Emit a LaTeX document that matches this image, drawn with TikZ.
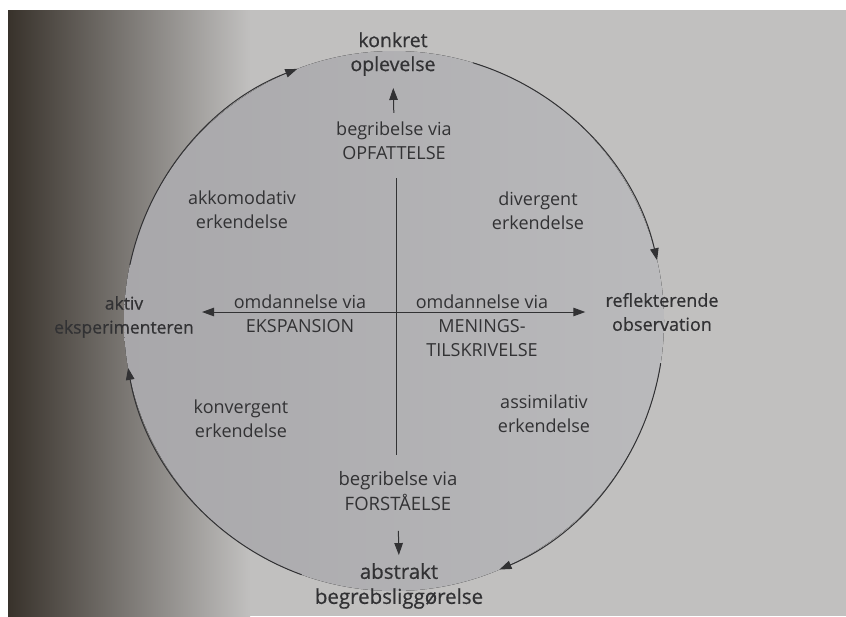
\documentclass[tikz,border=0pt]{standalone}
\usepackage{fontspec}
\setmainfont{Open Sans}
\newfontfamily\semib{Open Sans}[FakeBold=0.6]
\usetikzlibrary{arrows.meta}
\definecolor{ink}{RGB}{50,50,52}
\definecolor{pagegray}{RGB}{193,192,191}
\definecolor{pagemid}{RGB}{132,126,120}
\definecolor{pagedark}{RGB}{56,50,43}
\definecolor{diskleft}{RGB}{168,167,170}
\definecolor{diskright}{RGB}{186,186,188}
\begin{document}
\begin{tikzpicture}[x=1pt,y=-1pt,
  lbl/.style={align=center, inner sep=0pt, text=ink, font=\fontsize{18}{24}\selectfont},
  pole/.style={align=center, inner sep=0pt, text=ink, font=\fontsize{18}{24}\selectfont\semib},
  tip/.style={-{Triangle[length=12pt,width=8.5pt]}},
  ring/.style={draw=ink, line width=1pt, tip},
  axisline/.style={draw=ink, line width=1pt}]
\useasboundingbox (0,0) rectangle (846,616);
% page background (photo)
\fill[white] (0,0) rectangle (846,616);
\fill[pagegray] (8,10) rectangle (846,616);
\fill[left color=pagedark, middle color=pagemid, right color=pagegray] (8,10) rectangle (250,616);
% disk
\coordinate (c) at (394,321);
\fill[left color=diskleft, right color=diskright] (c) circle[radius=270];
% labels
\node[pole, font=\fontsize{19.5}{24}\selectfont\semib] (konkret) at (393,54) {konkret\\oplevelse};
\node[lbl] (opf) at (394,141) {begribelse via\\OPFATTELSE};
\node[lbl] (akk) at (242,210) {akkomodativ\\erkendelse};
\node[lbl] (div) at (538,211) {divergent\\erkendelse};
\node[lbl] (omdL) at (300,314) {omdannelse via\\EKSPANSION};
\node[lbl] (omdR) at (482,326) {omdannelse via\\MENINGS-\\TILSKRIVELSE};
\node[pole, font=\fontsize{17.5}{24}\selectfont\semib] (aktiv) at (124,317) {aktiv\\eksperimenteren};
\node[pole] (refl) at (662,312) {reflekterende\\observation};
\node[lbl] (konv) at (241,419) {konvergent\\erkendelse};
\node[lbl] (assim) at (544,414) {assimilativ\\erkendelse};
\node[lbl, font=\fontsize{18.5}{25}\selectfont] (forst) at (398,491) {begribelse via\\FORST\AA ELSE};
\node[pole, font=\fontsize{20.5}{25}\selectfont\semib] (abstr) at (399,586) {abstrakt\\begrebslig\-g\o relse};
% cycle arcs
\draw[ring] ([shift={(-168:270)}]c) arc[start angle=-168, end angle=-111, radius=270];
\draw[ring] ([shift={(-73:270)}]c) arc[start angle=-73, end angle=-13, radius=270];
\draw[ring] ([shift={(9:270)}]c) arc[start angle=9, end angle=67, radius=270];
\draw[ring] ([shift={(110:270)}]c) arc[start angle=110, end angle=170, radius=270];
% axes
\coordinate (o) at (396,312);
\draw[axisline, shorten <=18pt, shorten >=16pt] (o |- opf.south) -- (o |- forst.north);
\draw[axisline, {Triangle[length=12pt,width=8.5pt]}-{Triangle[length=12pt,width=8.5pt]}, shorten <=8pt, shorten >=20pt] (aktiv.east |- o) -- (refl.west |- o);
\draw[axisline, tip, shorten <=9pt, shorten >=12pt] (opf.north) -- (konkret.south);
\draw[axisline, tip, shorten <=20pt, shorten >=8pt] (forst.south) -- (abstr.north);
\end{tikzpicture}
\end{document}
